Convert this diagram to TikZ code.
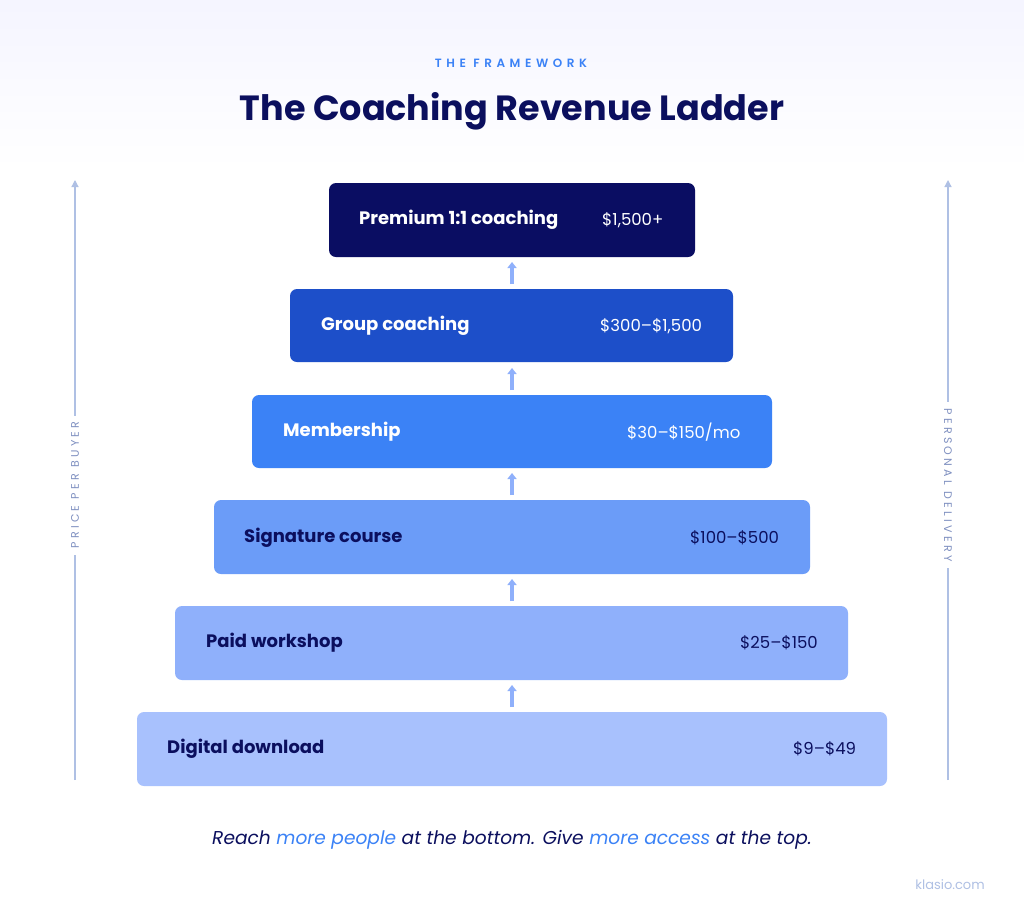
\documentclass[tikz,border=0pt]{standalone}
\usepackage{fontspec}
\setmainfont{Poppins}
\newfontfamily\spaced[LetterSpace=30]{Poppins}
\newfontfamily\spacedb[LetterSpace=38]{Poppins SemiBold}
\usetikzlibrary{arrows.meta}
\definecolor{navy}{HTML}{0B0F5E}
\definecolor{cA}{HTML}{0A0D62}
\definecolor{cB}{HTML}{1D4FC9}
\definecolor{cC}{HTML}{3B82F6}
\definecolor{cD}{HTML}{6B9CF8}
\definecolor{cE}{HTML}{8FB0FB}
\definecolor{cF}{HTML}{A8C1FD}
\definecolor{accent}{HTML}{3B82F6}
\definecolor{arr}{HTML}{8FB0FB}
\definecolor{side}{HTML}{AFC0E4}
\definecolor{sidetext}{HTML}{7E8FC0}
\begin{document}
\begin{tikzpicture}[x=1pt,y=-1pt,
  rung/.style={rounded corners=7pt,draw=none},
  lab/.style={anchor=west,inner sep=0pt,font=\bfseries\fontsize{18}{21}\selectfont},
  price/.style={anchor=west,inner sep=0pt,font=\fontsize{16.5}{19}\selectfont},
  up/.style={-{Triangle[width=9pt,length=6pt]},line width=3.5pt,draw=arr},
  sidearr/.style={-{Triangle[width=7pt,length=7pt]},line width=1.2pt,draw=side},
  sidelab/.style={fill=white,inner sep=6pt,text=sidetext,font=\spaced\fontsize{11}{13}\selectfont}]
\useasboundingbox (0,0) rectangle (1024,922);
\fill[white] (0,0) rectangle (1024,922);
\fill[top color=blue!4!white,bottom color=white] (0,0) rectangle (1024,170);
\node[text=accent,font=\spacedb\fontsize{12}{14}\selectfont] (kick) at (511,63) {THE FRAMEWORK};
\node[text=navy,font=\bfseries\fontsize{35}{40}\selectfont] (title) at (512,111) {The Coaching Revenue Ladder};
\fill[rung,cA] (329,183) rectangle (695,257); \node[lab,text=white] (l1) at (359,220) {Premium 1:1 coaching}; \node[price,text=white] (p1) at (602,220) {\$1,500+};
\fill[rung,cB] (290,289) rectangle (733,362); \node[lab,text=white] (l2) at (321,326) {Group coaching}; \node[price,text=white] (p2) at (600,326) {\$300–\$1,500};
\fill[rung,cC] (252,395) rectangle (772,468); \node[lab,text=white] (l3) at (283,432) {Membership}; \node[price,text=white] (p3) at (627,432) {\$30–\$150/mo};
\fill[rung,cD] (214,500) rectangle (810,574); \node[lab,text=navy] (l4) at (244,538) {Signature course}; \node[price,text=navy] (p4) at (690,538) {\$100–\$500};
\fill[rung,cE] (175,606) rectangle (848,680); \node[lab,text=navy] (l5) at (206,643) {Paid workshop}; \node[price,text=navy] (p5) at (740,643) {\$25–\$150};
\fill[rung,cF] (137,712) rectangle (887,786); \node[lab,text=navy] (l6) at (167,749) {Digital download}; \node[price,text=navy] (p6) at (793,749) {\$9–\$49};
\coordinate (a1) at (512,284); \coordinate (b1) at (512,262);
\coordinate (a2) at (512,390); \coordinate (b2) at (512,368);
\coordinate (a3) at (512,495); \coordinate (b3) at (512,473);
\coordinate (a4) at (512,601); \coordinate (b4) at (512,579);
\coordinate (a5) at (512,707); \coordinate (b5) at (512,685);
\foreach \i in {1,...,5}{\draw[up] (a\i) -- (b\i);}
\coordinate (ls) at (75,780); \coordinate (le) at (75,180);
\draw[sidearr] (ls) -- (le);
\node[sidelab,rotate=90] (lt) at (75,485) {PRICE PER BUYER};
\coordinate (rs) at (948,780); \coordinate (re) at (948,180);
\draw[sidearr] (rs) -- (re);
\node[sidelab,rotate=-90] (rt) at (948,485) {PERSONAL DELIVERY};
\node[text=navy,font=\itshape\fontsize{18.6}{22}\selectfont] (cap) at (512,840) {Reach \textcolor{accent}{more people} at the bottom. Give \textcolor{accent}{more access} at the top.};
\node[text=side,font=\fontsize{13}{16}\selectfont] (brand) at (950,885) {klasio.com};
\end{tikzpicture}
\end{document}
